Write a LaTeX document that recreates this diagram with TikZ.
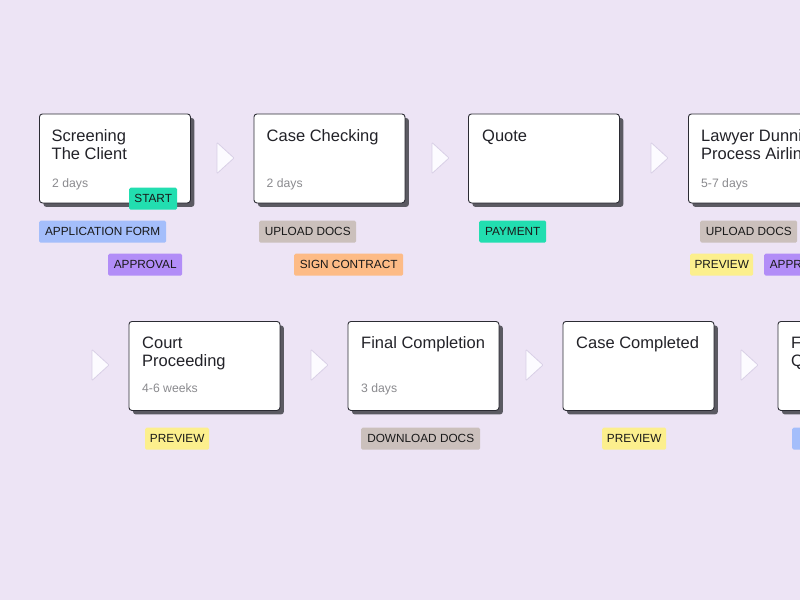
\documentclass[tikz,border=0pt]{standalone}
\usepackage{fontspec}
\setmainfont{Liberation Sans}
\usetikzlibrary{shadows}
\definecolor{bg}{HTML}{EDE4F5}
\definecolor{cardline}{HTML}{2B2B33}
\definecolor{shadowc}{HTML}{5B5A62}
\definecolor{titlec}{HTML}{222228}
\definecolor{subc}{HTML}{8A8A8E}
\definecolor{trifill}{HTML}{FCFBFF}
\definecolor{triline}{HTML}{D8CFE6}
\definecolor{tgreen}{HTML}{22DEB0}
\definecolor{tblue}{HTML}{A4BEFB}
\definecolor{tpurple}{HTML}{B28DF7}
\definecolor{ttaupe}{HTML}{CBC0BC}
\definecolor{torange}{HTML}{FDBB86}
\definecolor{tyellow}{HTML}{FCEF8D}
\begin{document}
\begin{tikzpicture}[x=1pt,y=-1pt,
  cardbox/.style={draw=cardline, fill=white, rounded corners=3pt, line width=0.9pt,
    minimum width=151pt, minimum height=89pt, anchor=north west, inner sep=0pt,
    drop shadow={shadow xshift=4pt, shadow yshift=-4pt, fill=shadowc, opacity=1}},
  titletext/.style={anchor=base west, inner sep=0pt, text=titlec, font=\fontsize{16.5}{18}\selectfont},
  subtext/.style={anchor=base west, inner sep=0pt, text=subc, font=\fontsize{12.2}{14}\selectfont},
  tag/.style={rounded corners=1.5pt, minimum height=22pt, inner sep=0pt, anchor=north west,
    text=black!90, font=\fontsize{11.8}{12}\selectfont},
  arrowtri/.style={fill=trifill, draw=triline, line width=0.8pt, rounded corners=0.8pt, line join=round}]
\useasboundingbox (0,0) rectangle (800,600);
\fill[bg] (0,0) rectangle (800,600);
\clip (0,0) rectangle (800,600);

% ---------- row 1 ----------
\node[cardbox] (c1) at (39,113.5) {};
\node[titletext] (c1t1) at (51.5,141) {Screening};
\node[titletext] (c1t2) at (51.5,159) {The Client};
\node[subtext] (c1s) at (52,187.5) {2 days};

\node[cardbox] (c2) at (253.5,113.5) {};
\node[titletext] (c2t1) at (266.5,141) {Case Checking};
\node[subtext] (c2s) at (266.5,187.5) {2 days};

\node[cardbox] (c3) at (468,113.5) {};
\node[titletext] (c3t1) at (482,141) {Quote};

\node[cardbox] (c4) at (688,113.5) {};
\node[titletext] (c4t1) at (701,141) {Lawyer Dunning};
\node[titletext] (c4t2) at (701,159) {Process Airline};
\node[subtext] (c4s) at (701,187.5) {5-7 days};

% row 1 tags
\node[tag, fill=tgreen, minimum width=48pt] (g1) at (129,187.5) {START};
\node[tag, fill=tblue, minimum width=127pt] (g2) at (39,220.5) {APPLICATION FORM};
\node[tag, fill=tpurple, minimum width=74pt] (g3) at (108,253.5) {APPROVAL};
\node[tag, fill=ttaupe, minimum width=97pt] (g4) at (259,220.5) {UPLOAD DOCS};
\node[tag, fill=torange, minimum width=109pt] (g5) at (294,253.5) {SIGN CONTRACT};
\node[tag, fill=tgreen, minimum width=67pt] (g6) at (479,220.5) {PAYMENT};
\node[tag, fill=ttaupe, minimum width=97pt] (g7) at (700,220.5) {UPLOAD DOCS};
\node[tag, fill=tyellow, minimum width=63pt] (g8) at (690,253.5) {PREVIEW};
\node[tag, fill=tpurple, minimum width=74pt] (g9) at (764,253.5) {APPROVAL};

% row 1 arrows
\draw[arrowtri] (217,142.5) -- (234,158) -- (217,173.5) -- cycle;
\draw[arrowtri] (432,142.5) -- (449,158) -- (432,173.5) -- cycle;
\draw[arrowtri] (651,142.5) -- (668,158) -- (651,173.5) -- cycle;

% ---------- row 2 ----------
\node[cardbox] (c5) at (128.5,321) {};
\node[titletext] (c5t1) at (142,348) {Court};
\node[titletext] (c5t2) at (142,366) {Proceeding};
\node[subtext] (c5s) at (142,392.5) {4-6 weeks};

\node[cardbox] (c6) at (347.5,321) {};
\node[titletext] (c6t1) at (361,348) {Final Completion};
\node[subtext] (c6s) at (361,392.5) {3 days};

\node[cardbox] (c7) at (562.5,321) {};
\node[titletext] (c7t1) at (576,348) {Case Completed};

\node[cardbox] (c8) at (777.5,321) {};
\node[titletext] (c8t1) at (791,348) {Follow-up};
\node[titletext] (c8t2) at (791,366) {Questions};

% row 2 tags
\node[tag, fill=tyellow, minimum width=64pt] (h1) at (145,427.5) {PREVIEW};
\node[tag, fill=ttaupe, minimum width=119pt] (h2) at (361,427.5) {DOWNLOAD DOCS};
\node[tag, fill=tyellow, minimum width=64pt] (h3) at (602,427.5) {PREVIEW};
\node[tag, fill=tblue, minimum width=110pt] (h4) at (792,427.5) {DOCS};

% row 2 arrows
\draw[arrowtri] (92,349.5) -- (109,365) -- (92,380.5) -- cycle;
\draw[arrowtri] (311,349.5) -- (328,365) -- (311,380.5) -- cycle;
\draw[arrowtri] (526,349.5) -- (543,365) -- (526,380.5) -- cycle;
\draw[arrowtri] (741,349.5) -- (758,365) -- (741,380.5) -- cycle;
\end{tikzpicture}
\end{document}
